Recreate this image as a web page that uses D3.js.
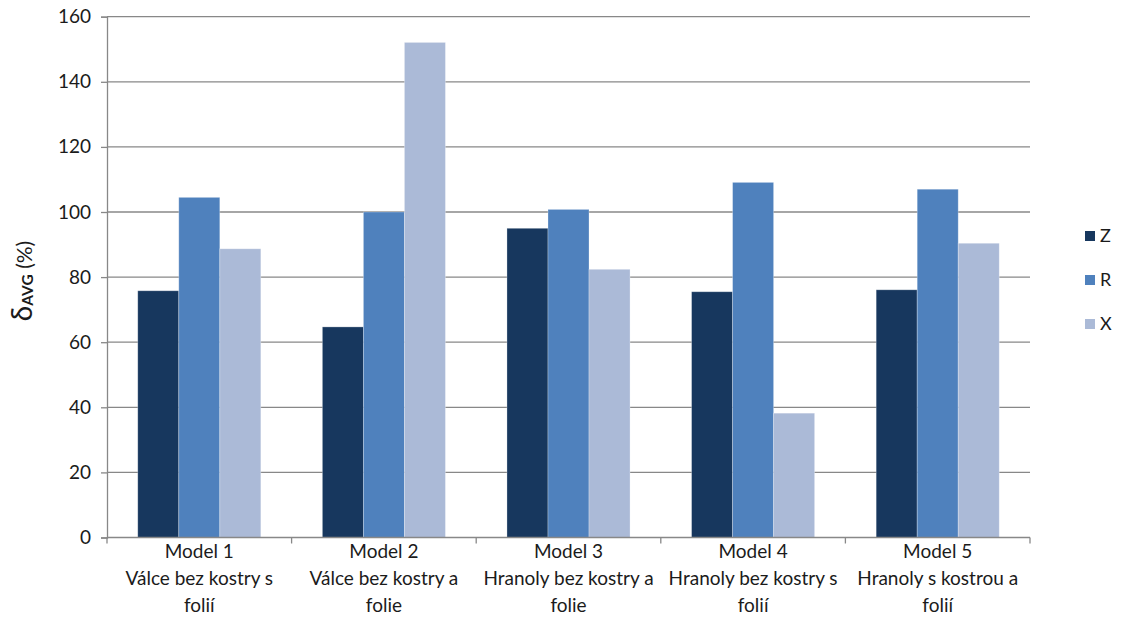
<!DOCTYPE html>
<html>
<head>
<meta charset="utf-8">
<script src="https://cdn.jsdelivr.net/npm/d3@7"></script>
<style>
  body { margin: 0; background: #fff; }
  svg { display: block; font-family: Lato, "Open Sans", "Liberation Sans", sans-serif; }
</style>
</head>
<body>
<svg id="chart" width="1122" height="628"></svg>
<script>
const categories = ["Model 1", "Model 2", "Model 3", "Model 4", "Model 5"];
const categorySubLabels = [
  ["Válce bez kostry s", "folií"],
  ["Válce bez kostry a", "folie"],
  ["Hranoly bez kostry a", "folie"],
  ["Hranoly bez kostry s", "folií"],
  ["Hranoly s kostrou a", "folií"]
];
const seriesNames = ["Z", "R", "X"];
const seriesColors = ["#17375E", "#4F81BD", "#ABBAD7"];
const valuesZ = [75.8, 64.7, 95.0, 75.5, 76.1];
const valuesR = [104.5, 100.0, 100.8, 109.1, 107.0];
const valuesX = [88.7, 152.1, 82.4, 38.2, 90.4];
const yTicks = [0, 20, 40, 60, 80, 100, 120, 140, 160];

const seriesValues = [valuesZ, valuesR, valuesX];

const svg = d3.select("#chart");
const mLeft = 107, mRight = 1030, mTop = 16.7, mBottom = 537.5;
const textColor = "#1b1b1b";
const gridColor = "#888888";

const x = d3.scaleBand().domain(categories).range([mLeft, mRight])
  .paddingInner(1/3).paddingOuter(1/6);
const xs = d3.scaleBand().domain(seriesNames).range([0, x.bandwidth()]);
const y = d3.scaleLinear().domain([0, 160]).range([mBottom, mTop]);

// gridlines
svg.append("g").selectAll("line").data(yTicks.filter(d => d > 0)).join("line")
  .attr("x1", mLeft).attr("x2", mRight)
  .attr("y1", d => y(d)).attr("y2", d => y(d))
  .attr("stroke", gridColor).attr("stroke-width", 1.3);

// bars
const groups = svg.append("g").selectAll("g").data(categories).join("g")
  .attr("transform", d => `translate(${x(d)},0)`);
groups.selectAll("rect").data((c, i) => seriesNames.map((s, j) => ({s, j, v: seriesValues[j][i]})))
  .join("rect")
  .attr("x", d => xs(d.s))
  .attr("width", xs.bandwidth())
  .attr("y", d => y(d.v))
  .attr("height", d => y(0) - y(d.v))
  .attr("fill", d => seriesColors[d.j])
  .attr("stroke", "rgba(255,255,255,0.35)")
  .attr("stroke-width", 0.8);

// y axis
const yAxis = d3.axisLeft(y).tickValues(yTicks).tickSize(6).tickPadding(10);
const gy = svg.append("g").attr("transform", `translate(${mLeft},0)`).call(yAxis);
gy.select(".domain").attr("stroke", gridColor).attr("stroke-width", 1.3);
gy.selectAll(".tick line").attr("stroke", gridColor).attr("stroke-width", 1.3);
gy.selectAll(".tick text").attr("font-size", 19).attr("fill", textColor)
  .attr("font-family", "Lato, 'Open Sans', sans-serif");

// x axis
const xTickPos = d3.range(categories.length + 1).map(i => mLeft + i * x.step());
svg.append("line").attr("x1", mLeft).attr("x2", mRight).attr("y1", mBottom).attr("y2", mBottom)
  .attr("stroke", gridColor).attr("stroke-width", 1.3);
svg.append("g").selectAll("line").data(xTickPos).join("line")
  .attr("x1", d => d).attr("x2", d => d).attr("y1", mBottom).attr("y2", mBottom + 6)
  .attr("stroke", gridColor).attr("stroke-width", 1.3);

const xl = svg.append("g").selectAll("text").data(categories).join("text")
  .attr("x", d => x(d) + x.bandwidth() / 2)
  .attr("y", 558)
  .attr("text-anchor", "middle")
  .attr("font-size", 19)
  .attr("fill", textColor);
xl.each(function(d, i) {
  const t = d3.select(this);
  const lines = [d].concat(categorySubLabels[i]);
  lines.forEach((ln, k) => {
    t.append("tspan").attr("x", x(d) + x.bandwidth() / 2).attr("dy", k === 0 ? 0 : 27).text(ln);
  });
});

// y axis title
const yt = svg.append("text")
  .attr("transform", "translate(32,281) rotate(-90)")
  .attr("text-anchor", "middle")
  .attr("fill", textColor);
yt.append("tspan").attr("font-size", 28).text("δ");
yt.append("tspan").attr("font-size", 15.5).attr("font-weight", "bold").attr("dy", 1).text("AVG");
yt.append("tspan").attr("font-size", 21).attr("dy", -1).text(" (%)");

// legend
const lg = svg.append("g").selectAll("g").data(seriesNames).join("g")
  .attr("transform", (d, i) => `translate(1085,${236 + i * 44})`);
lg.append("rect").attr("x", 0).attr("y", -5).attr("width", 10).attr("height", 10)
  .attr("fill", (d, i) => seriesColors[i]);
lg.append("text").attr("x", 15).attr("y", 0).attr("dy", "0.35em")
  .attr("font-size", 18).attr("fill", textColor).text(d => d);
</script>
</body>
</html>
